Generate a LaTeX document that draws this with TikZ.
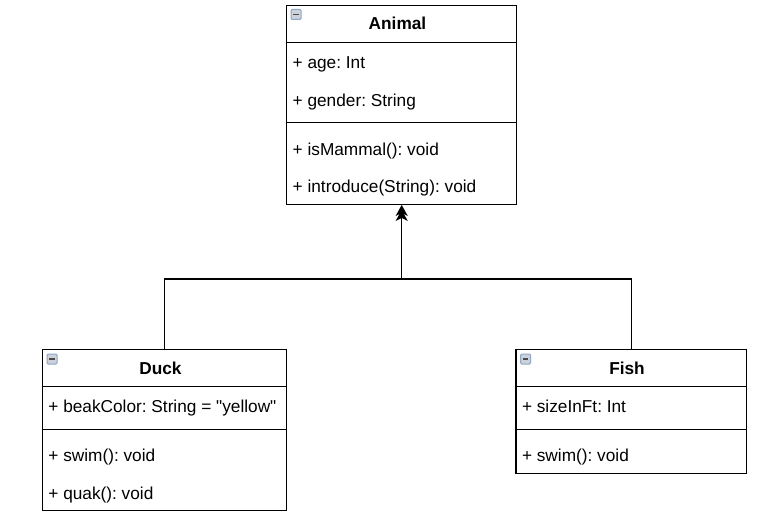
\documentclass[tikz,border=0pt]{standalone}
\usepackage{fontspec}
\setmainfont{Liberation Sans}
\usetikzlibrary{arrows.meta,calc}
\definecolor{iconfill}{HTML}{CDD2DA}
\definecolor{iconline}{HTML}{8EA6C7}
\definecolor{icondash}{HTML}{4A4A4A}
\tikzset{
  classbox/.style={draw=black, line width=1.4pt, fill=white, inner sep=0pt, anchor=north west},
  sepline/.style={draw=black, line width=1.4pt},
  member/.style={anchor=base west, inner sep=0pt, font=\fontsize{17.25}{20}\selectfont},
  classname/.style={anchor=base, inner sep=0pt, font=\fontsize{17.25}{20}\selectfont\bfseries},
  conn/.style={draw=black, line width=1.4pt},
  genarrow/.style={-{Stealth[length=11pt,width=12pt,inset=3pt]}},
  collapseicon/.style={draw=iconline, fill=iconfill, line width=1pt, rounded corners=1.2pt},
  collapsedash/.style={draw=icondash, line width=1.8pt}
}
\newcommand\collapsemark[2]{%
  \draw[collapseicon] (#1,#2) rectangle ++(10,10);
  \draw[collapsedash] ($(#1,#2)+(2.3,5)$) -- ++(5.4,0);
}
\begin{document}
\frenchspacing
\begin{tikzpicture}[x=1pt,y=-1pt]
\useasboundingbox (0,0) rectangle (766,519);

% ---------- Animal ----------
\node[classbox, minimum width=230pt, minimum height=198.5pt] (animal) at (286,5) {};
\draw[sepline] (286,42.4) -- (516,42.4);
\draw[sepline] (286,122.6) -- (516,122.6);
\collapsemark{291}{9.5}
\node[classname] (animalname) at (397.5,30) {Animal};
\node[member] (animalage) at (292.5,68.9) {+ age: Int};
\node[member] (animalgender) at (292.5,106.3) {+ gender: String};
\node[member] (animalmammal) at (292.5,155.2) {+ isMammal(): void};
\node[member] (animalintro) at (292.5,192.6) {+ introduce(String): void};

% ---------- Duck ----------
\node[classbox, minimum width=244.3pt, minimum height=161pt] (duck) at (41.7,349) {};
\draw[sepline] (41.7,386.4) -- (286,386.4);
\draw[sepline] (41.7,429.5) -- (286,429.5);
\collapsemark{47}{354}
\node[classname] (duckname) at (160.5,374) {Duck};
\node[member] (duckbeak) at (48.2,412.9) {+ beakColor: String = \textquotedbl yellow\textquotedbl};
\node[member] (duckswim) at (48.2,461.8) {+ swim(): void};
\node[member] (duckquak) at (48.2,499.2) {+ quak(): void};

% ---------- Fish ----------
\node[classbox, minimum width=230.5pt, minimum height=124pt] (fish) at (515.3,349) {};
\draw[sepline] (515.3,386.4) -- (745.8,386.4);
\draw[sepline] (515.3,429.5) -- (745.8,429.5);
\collapsemark{520.6}{354}
\node[classname] (fishname) at (627,374) {Fish};
\node[member] (fishsize) at (521.8,412.9) {+ sizeInFt: Int};
\node[member] (fishswim) at (521.8,461.8) {+ swim(): void};

% ---------- Generalisation connectors ----------
\coordinate (join) at (animal.south |- 0,279);
\coordinate (tipb) at ([yshift=-5pt]animal.south);
\draw[conn,genarrow] (fish.north) |- (join) -- (tipb);
\draw[conn,genarrow] (duck.north) |- (join) -- (animal.south);
\end{tikzpicture}
\end{document}
